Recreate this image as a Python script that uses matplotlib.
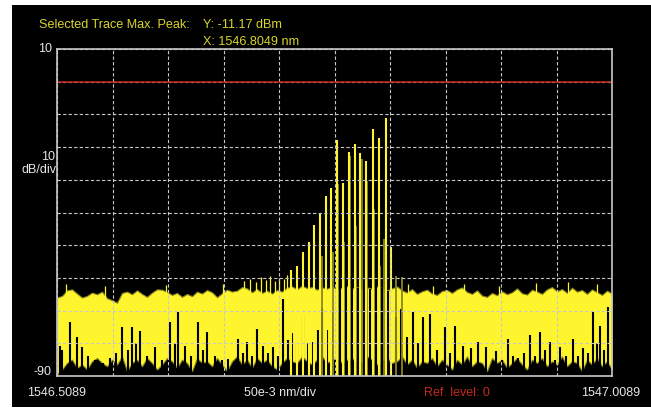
import numpy as np
import matplotlib
matplotlib.use("Agg")
import matplotlib.pyplot as plt
from matplotlib.patches import Rectangle

# ---------------- data ----------------
x_start, x_stop = 1546.5089, 1547.0089
y_bottom, y_top = -90, 10
ref_level = 0

# upper envelope of the noise trace (dBm), uniformly sampled across the span
noise_top = [
    -66.0, -65.5, -63.8, -63.5, -64.8, -66.0, -65.5, -64.5, -65.0, -64.2,
    -66.2, -66.8, -67.6, -64.6, -64.2, -65.0, -63.8, -64.9, -65.8, -64.5,
    -63.5, -63.6, -64.3, -65.2, -64.6, -65.8, -64.9, -65.6, -64.2, -64.8,
    -63.7, -64.4, -65.9, -64.7, -63.6, -64.2, -63.9, -62.8, -63.2, -64.4,
    -63.4, -64.6, -63.9, -64.8, -63.7, -64.2, -63.0, -62.6, -63.5, -62.4,
    -63.1, -62.8, -63.6, -62.9, -63.3, -62.7, -63.4, -63.0, -62.5, -63.2,
    -62.8, -63.5, -62.9, -63.3, -62.6, -63.1, -63.8, -63.2, -62.6, -63.8,
    -64.5, -63.4, -64.9, -64.1, -63.6, -64.8, -65.2, -64.0, -63.7, -64.6,
    -63.5, -62.9, -64.3, -64.9, -63.8, -65.4, -65.8, -64.6, -65.3, -64.1,
    -65.0, -64.4, -63.2, -64.7, -65.1, -63.6, -64.2, -64.9, -63.5, -62.8,
    -64.1, -63.4, -64.6, -63.0, -64.2, -63.7, -64.9, -63.5, -64.4, -65.2,
    -63.9, -64.8]

# lower envelope of the noise trace (dBm)
noise_floor = [
    -89.5, -88.0, -86.0, -85.0, -87.5, -86.5, -88.0, -85.5, -84.5, -86.0,
    -87.0, -85.0, -86.5, -84.0, -88.5, -86.0, -85.0, -87.0, -84.5, -86.0,
    -88.0, -86.5, -84.5, -85.5, -87.5, -85.0, -86.0, -88.5, -84.5, -86.0,
    -85.5, -87.0, -84.5, -86.5, -88.5, -85.5, -84.0, -86.5, -85.0, -87.5,
    -84.5, -86.0, -85.0, -87.0, -88.0, -86.0, -84.5, -85.5, -86.0, -84.0,
    -85.5, -86.5, -85.0, -84.0, -86.0, -85.0, -84.5, -86.0, -85.0, -84.5,
    -86.0, -85.5, -84.0, -85.0, -86.5, -85.0, -84.5, -86.0, -85.5, -84.0,
    -86.5, -85.0, -87.5, -85.5, -86.0, -84.5, -87.0, -85.0, -86.5, -88.0,
    -85.0, -86.5, -84.0, -87.0, -85.5, -86.0, -88.5, -84.5, -86.0, -85.0,
    -87.5, -86.0, -84.5, -86.5, -88.0, -85.0, -86.0, -84.5, -87.0, -85.5,
    -86.5, -84.0, -87.0, -85.5, -86.0, -88.5, -85.0, -86.5, -84.5, -87.0,
    -85.5, -88.0]

# narrow upward noise spikes above the envelope (nm, dBm)
spike_nm = [1546.5170, 1546.5520, 1546.6070, 1546.6580, 1546.6770, 1546.6830,
            1546.6880, 1546.6930, 1546.6970, 1546.7010, 1546.7050, 1546.7090,
            1546.7130, 1546.7165, 1546.8250, 1546.8480, 1546.8760, 1546.9070,
            1546.9400, 1546.9690, 1546.9950]
spike_db = [-62.0, -62.5, -62.2, -61.8, -61.0, -60.2,
            -61.2, -59.8, -60.6, -59.5, -60.8, -59.9,
            -60.4, -59.2, -62.0, -62.6, -61.8, -62.4,
            -61.6, -61.2, -62.0]

# local minima of the trace that rise well above the floor (nm, dBm)
trough_nm = [
    1546.5116, 1546.5134, 1546.5206, 1546.5269, 1546.5314, 1546.5368, 1546.5431,
    1546.5503, 1546.5566, 1546.5621, 1546.5675, 1546.5729, 1546.5765, 1546.5801,
    1546.5837, 1546.5900, 1546.5972, 1546.6035, 1546.6107, 1546.6152, 1546.6179,
    1546.6242, 1546.6296, 1546.6359, 1546.6404, 1546.6440, 1546.6512, 1546.6575,
    1546.6630, 1546.6720, 1546.6765, 1546.6801, 1546.6846, 1546.6891, 1546.6945,
    1546.6990, 1546.7035, 1546.7080, 1546.7125, 1546.7170, 1546.7206, 1546.7251,
    1546.7305, 1546.7350, 1546.7395, 1546.7440, 1546.7476, 1546.7521, 1546.7566,
    1546.7643, 1546.7697, 1546.7751, 1546.7805, 1546.7857, 1546.7909, 1546.7963,
    1546.8020, 1546.8075,
    1546.8143, 1546.8188, 1546.8242, 1546.8296, 1546.8341, 1546.8386, 1546.8449,
    1546.8512, 1546.8584, 1546.8630, 1546.8675, 1546.8747, 1546.8819, 1546.8882,
    1546.8954, 1546.9044, 1546.9098, 1546.9152, 1546.9197, 1546.9242, 1546.9296,
    1546.9350, 1546.9395, 1546.9440, 1546.9485, 1546.9530, 1546.9575, 1546.9621,
    1546.9675, 1546.9738, 1546.9783, 1546.9828, 1546.9873, 1546.9918, 1546.9954,
    1546.9981, 1547.0017, 1547.0053]
trough_db = [
    -80.8, -82.0, -73.5, -78.0, -81.0, -84.0, -85.0,
    -86.0, -84.5, -83.0, -75.0, -82.0, -75.0, -80.0,
    -76.2, -84.0, -81.0, -85.0, -73.5, -80.0, -70.5,
    -80.8, -84.0, -73.5, -82.0, -76.5, -84.0, -85.0,
    -84.9, -78.7, -83.0, -79.5, -84.0, -75.6, -80.8,
    -83.0, -81.0, -84.0, -66.5, -79.0, -77.0, -80.0,
    -71.7, -80.0, -79.5, -76.0, -69.5, -76.0, -70.0,
    -62.5, -61.5, -62.0, -63.0, -62.0, -63.5, -62.5,
    -63.0, -64.0,
    -72.0, -69.5, -78.0, -70.5, -80.0, -72.0, -71.0,
    -82.0, -75.0, -83.0, -74.8, -80.8, -81.5, -79.5,
    -81.0, -82.5, -85.0, -78.7, -84.0, -84.5, -83.0,
    -77.5, -84.0, -76.5, -82.0, -79.5, -85.0, -81.0,
    -84.0, -78.7, -84.0, -81.5, -83.0, -70.5, -80.0,
    -74.8, -82.0, -69.0]

# comb lines of the signal (nm, dBm)
peak_nm = [1546.7197, 1546.7248, 1546.7303, 1546.7357, 1546.7407, 1546.7458,
           1546.7510, 1546.7560, 1546.7609, 1546.7663, 1546.7717, 1546.7771,
           1546.7821, 1546.7875, 1546.7933, 1546.7987, 1546.8049, 1546.8098]
peak_db = [-57.6, -56.3, -52.1, -48.9, -43.8, -40.5,
           -34.9, -32.5, -17.7, -31.0, -21.5, -19.1,
           -21.8, -24.2, -14.5, -17.2, -11.17, -50.6]

# secondary samples next to the comb lines (nm, dBm)
side_nm = [1546.7474, 1546.7573, 1546.7623, 1546.7675, 1546.7729, 1546.7785,
           1546.7837, 1546.7884, 1546.7942, 1546.7996, 1546.8038, 1546.8057,
           1546.8143, 1546.8194]
side_db = [-53.2, -52.2, -31.3, -49.1, -22.6, -44.0,
           -23.6, -30.3, -39.0, -56.3, -48.1, -31.6,
           -59.3, -59.6]

peak_label_y = "Y: -11.17 dBm"
peak_label_x = "X: 1546.8049 nm"

# ---------------- drawing ----------------
W, H = 651, 410
fig = plt.figure(figsize=(W / 100, H / 100), dpi=100, facecolor="white")
fig.patches.append(Rectangle((12 / W, 2 / H), (W - 12) / W, 402 / H,
                             transform=fig.transFigure, facecolor="black",
                             edgecolor="none", zorder=-5))

ax = fig.add_axes([57 / W, (H - 377) / H, 555 / W, 327 / H])
ax.set_zorder(1)
ax.set_facecolor("black")
ax.set_xlim(x_start, x_stop)
ax.set_ylim(y_bottom, y_top)

yellow = "#FFF52E"
olive = "#8A861E"

xs = np.linspace(x_start, x_stop, len(noise_top))
ax.fill_between(xs, noise_floor, noise_top, color=yellow, linewidth=0.8,
                edgecolor=olive, zorder=1)
ax.vlines(spike_nm, -70, spike_db, colors=yellow, linewidth=0.9, zorder=1.2)
ax.vlines(trough_nm, y_bottom, trough_db, colors="black", linewidth=1.5, zorder=1.5)
ax.vlines(side_nm, y_bottom, side_db, colors=olive, linewidth=1.3, zorder=1.8)
ax.vlines(peak_nm, y_bottom, peak_db, colors=yellow, linewidth=1.5, zorder=1.9)

ax.axhline(ref_level, color="#C8281E", linewidth=1.1, zorder=3)

ax.set_xticks(np.linspace(x_start, x_stop, 11))
ax.set_yticks(np.linspace(y_bottom, y_top, 11))
ax.tick_params(length=0, labelbottom=False, labelleft=False)
ax.grid(True, color="#C8C8C8", linestyle=(0, (3, 2)), linewidth=0.8)
ax.set_axisbelow(False)
for s in ax.spines.values():
    s.set_color("#C8C8C8")
    s.set_linewidth(1.2)
    s.set_zorder(4)

fam = ["Liberation Sans", "DejaVu Sans"]
txt_yellow = "#D8D42C"
white = "#E6E6E6"


def put(x, y, s, color, ha="left", size=9):
    fig.text(x / W, 1 - y / H, s, color=color, ha=ha, va="center",
             fontsize=size, family=fam)


put(39, 25, "Selected Trace Max. Peak:", txt_yellow, size=9.1)
put(203, 25, peak_label_y, txt_yellow, size=9.1)
put(203, 42, peak_label_x, txt_yellow, size=9.1)
put(52, 49, f"{y_top}", white, ha="right", size=9)
put(55, 157, "10", white, ha="right", size=9)
put(56, 170, "dB/div", white, ha="right", size=9)
put(52, 372, f"{y_bottom}", white, ha="right", size=9)
put(57, 393, f"{x_start:.4f}", white, ha="center", size=9)
put(280, 393, "50e-3 nm/div", white, ha="center", size=9)
put(457, 393, f"Ref. level: {ref_level}", "#C8281E", ha="center", size=9)
put(611, 393, f"{x_stop:.4f}", white, ha="center", size=9)

fig.savefig("out.png", dpi=100, facecolor="white")
